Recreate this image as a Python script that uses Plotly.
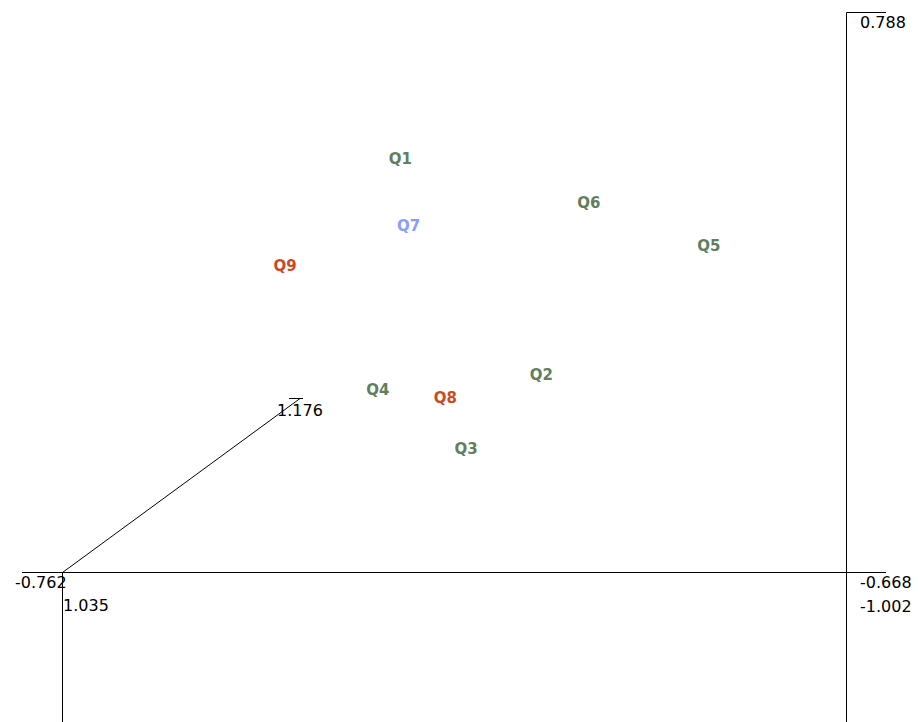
import plotly.graph_objects as go

# ---- data ----
labels = ["Q1", "Q2", "Q3", "Q4", "Q5", "Q6", "Q7", "Q8", "Q9"]
x_vals = [-0.7215, -0.7046, -0.7136, -0.7242, -0.6845, -0.6989, -0.7205, -0.7161, -0.7353]
y_vals = [0.315, -0.375, -0.612, -0.423, 0.037, 0.175, 0.101, -0.449, -0.027]
groups = ["A", "A", "A", "A", "A", "A", "B", "C", "C"]

x_axis_ticks = [-0.762, -0.668]
y_axis_ticks = [-1.002, 0.788]
z_axis_ticks = [1.035, 1.176]

group_colors = {"A": "#5f7f5f", "B": "#8c9cff", "C": "#cc4a22"}

# ---- geometry (screen pixel frame of the drawing) ----
W, H = 920, 722
PAGE_OFF = 8                # default body margin of the html page
PX_X0, PX_X1 = 62.5, 846.5  # pixel columns of x tick values
PX_Y0, PX_Y1 = 572.5, 12.5  # pixel rows of y tick values
PX_Z_END = (300, 398.5)     # pixel end of the depth axis

sx = (x_axis_ticks[1] - x_axis_ticks[0]) / (PX_X1 - PX_X0)
sy = (y_axis_ticks[1] - y_axis_ticks[0]) / (PX_Y0 - PX_Y1)

def dx(px):
    return x_axis_ticks[0] + (px - PX_X0) * sx

def dy(py):
    return y_axis_ticks[0] + (PX_Y0 - py) * sy

x_range = [dx(PAGE_OFF), dx(PAGE_OFF + W)]
y_range = [dy(PAGE_OFF + H), dy(PAGE_OFF)]

fig = go.Figure()

fig.add_trace(go.Scatter(
    x=x_vals, y=y_vals, text=labels, mode="text",
    textposition="middle center",
    textfont=dict(family="DejaVu Sans", size=15, color=[group_colors[g] for g in groups], weight="bold"),
    hoverinfo="text", showlegend=False,
))

line = dict(color="black", width=1)
shapes = [
    # horizontal axis
    dict(type="line", x0=dx(22), x1=dx(886), y0=dy(PX_Y0), y1=dy(PX_Y0)),
    # vertical axis (right)
    dict(type="line", x0=dx(PX_X1), x1=dx(PX_X1), y0=dy(PX_Y1), y1=dy(H + 20)),
    # top tick
    dict(type="line", x0=dx(PX_X1), x1=dx(886), y0=dy(PX_Y1), y1=dy(PX_Y1)),
    # left vertical drop
    dict(type="line", x0=dx(PX_X0), x1=dx(PX_X0), y0=dy(PX_Y0), y1=dy(H + 20)),
    # depth axis
    dict(type="line", x0=dx(PX_X0), x1=dx(PX_Z_END[0]), y0=dy(PX_Y0), y1=dy(PX_Z_END[1])),
    dict(type="line", x0=dx(289), x1=dx(303), y0=dy(PX_Z_END[1]), y1=dy(PX_Z_END[1])),
]
for s in shapes:
    s.update(line=line, xref="x", yref="y")

tick_font = dict(family="DejaVu Sans", size=16, color="black")

def fmt(v):
    return f"{v:.3f}"

annotations = [
    dict(x=dx(PX_X0), y=dy(PX_Y0), text=fmt(x_axis_ticks[0]), xanchor="right", yanchor="middle", xshift=6, yshift=-10),
    dict(x=dx(PX_X1), y=dy(PX_Y0), text=fmt(x_axis_ticks[1]), xanchor="left", yanchor="middle", xshift=11, yshift=-10),
    dict(x=dx(PX_X1), y=dy(PX_Y0), text=fmt(y_axis_ticks[0]), xanchor="left", yanchor="middle", xshift=11, yshift=-34),
    dict(x=dx(PX_X1), y=dy(PX_Y1), text=fmt(y_axis_ticks[1]), xanchor="left", yanchor="middle", xshift=11, yshift=-10),
    dict(x=dx(PX_X0), y=dy(PX_Y0), text=fmt(z_axis_ticks[0]), xanchor="left", yanchor="middle", xshift=-2, yshift=-33),
    dict(x=dx(PX_Z_END[0]), y=dy(PX_Z_END[1]), text=fmt(z_axis_ticks[1]), xanchor="left", yanchor="middle", xshift=-25, yshift=-12),
]
for a in annotations:
    a.update(showarrow=False, font=tick_font, xref="x", yref="y")

fig.update_layout(
    width=W, height=H, autosize=False,
    margin=dict(l=0, r=0, t=0, b=0),
    paper_bgcolor="white", plot_bgcolor="white",
    xaxis=dict(range=x_range, visible=False, fixedrange=True),
    yaxis=dict(range=y_range, visible=False, fixedrange=True),
    shapes=shapes, annotations=annotations,
    showlegend=False,
)

fig.write_html("out.html")
